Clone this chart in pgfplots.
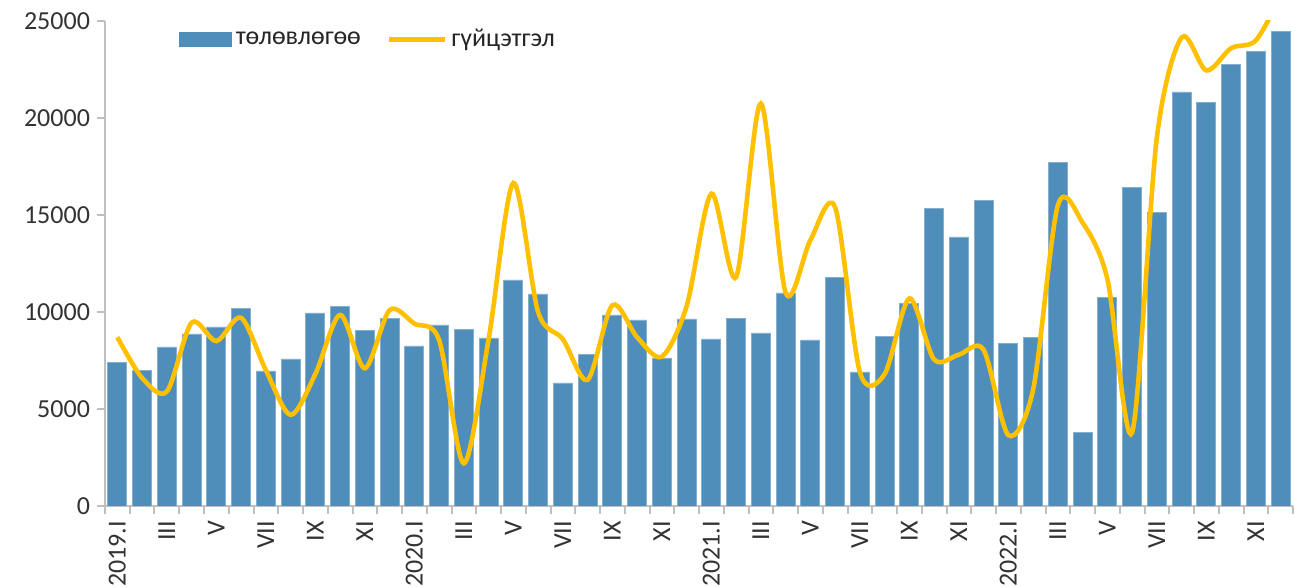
\documentclass[border=0pt]{standalone}
\usepackage{fontspec}
\setmainfont{Carlito}
\usepackage{pgfplots}
\pgfplotsset{compat=1.18}
\usetikzlibrary{calc}

\definecolor{barblue}{RGB}{79,141,187}
\definecolor{lineyel}{RGB}{255,192,0}
\definecolor{axgray}{RGB}{191,191,191}

% months 1..48 (2019.I ... 2022.XII)
\pgfplotstableread{
m plan actual
1 7400 8700
2 7000 6600
3 8200 5900
4 8870 9450
5 9230 8500
6 10200 9700
7 6960 7000
8 7580 4700
9 9950 6800
10 10300 9850
11 9070 7100
12 9690 10100
13 8250 9400
14 9330 8550
15 9120 2200
16 8660 8600
17 11650 16650
18 10930 10000
19 6340 8600
20 7830 6500
21 9850 10350
22 9590 8700
23 7630 7700
24 9640 10300
25 8610 16100
26 9690 11800
27 8920 20750
28 10980 11000
29 8560 13700
30 11800 15400
31 6910 6900
32 8760 6800
33 10460 10700
34 15360 7550
35 13870 7800
36 15770 8050
37 8400 3650
38 8710 6000
39 17730 15500
40 3810 14600
41 10770 11700
42 16440 3800
43 15150 19000
44 21340 24150
45 20820 22450
46 22780 23600
47 23450 24000
48 24480 26300
}\data

\begin{document}
\begin{tikzpicture}
\begin{axis}[
    scale only axis,
    width=594pt, height=242.5pt,
    xmin=0.5, xmax=48.5,
    ymin=0, ymax=25000,
    axis x line*=bottom, axis y line*=left,
    axis line style={axgray, line width=1pt, -},
    tick align=outside,
    major tick length=4pt, minor tick length=4pt,
    tick style={axgray, line width=1pt},
    ytick={0,5000,...,25000},
    scaled y ticks=false,
    yticklabel style={/pgf/number format/set thousands separator={}, /pgf/number format/assume math mode=true},
    xtick={1,3,...,47},
    xticklabels={2019.I,III,V,VII,IX,XI,2020.I,III,V,VII,IX,XI,2021.I,III,V,VII,IX,XI,2022.I,III,V,VII,IX,XI},
    major x tick style={draw=none},
    minor xtick={0.5,1.5,...,48.5},
    xticklabel style={rotate=90, anchor=east},
    ticklabel style={font=\fontsize{13}{15}\selectfont, text=black!80},
    legend style={at={(0.057,1.0)}, anchor=north west, draw=none, fill=none,
        legend columns=2, font=\fontsize{13}{15}\selectfont, text=black!85,
        /tikz/every even column/.append style={column sep=11pt}},
    legend cell align=left,
]
\addplot[ybar, bar width=9.5pt, fill=barblue, draw=barblue!70!white, line width=0.4pt,
    legend image code/.code={\fill[barblue] (0pt,-3.5pt) rectangle (26pt,3.5pt);}]
    table[x=m, y=plan] {\data};
\addlegendentry{төлөвлөгөө}
\addplot[lineyel, line width=2.3pt, smooth, tension=0.5,
    legend image code/.code={\draw[lineyel, line width=2.3pt] (0pt,0pt) -- (28pt,0pt);}]
    table[x=m, y=actual] {\data};
\addlegendentry{гүйцэтгэл}
\coordinate (SW) at (rel axis cs:0,0);
\coordinate (NE) at (rel axis cs:1,1);
\end{axis}
\pgfresetboundingbox
\path ($(SW)+(-52.5pt,-40.5pt)$) rectangle ($(NE)+(3pt,10.5pt)$);
\end{tikzpicture}
\end{document}
